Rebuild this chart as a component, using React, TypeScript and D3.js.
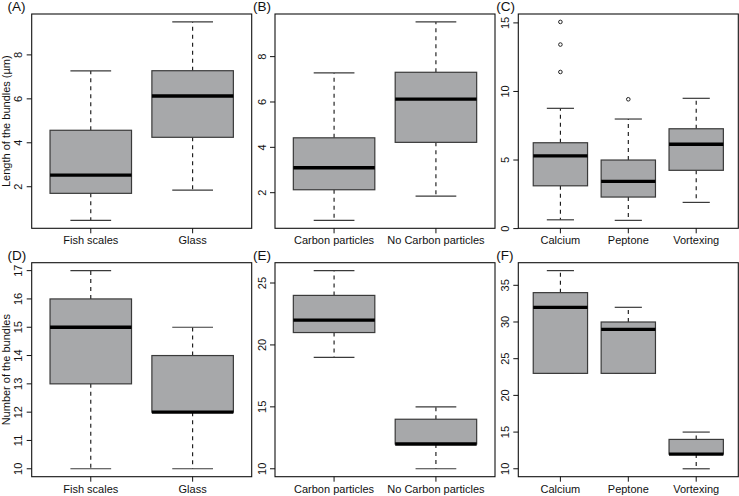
import React from "react";
import * as d3 from "d3";

// ---- data ----
const catsFishGlass = ["Fish scales", "Glass"];
const catsCarbon = ["Carbon particles", "No Carbon particles"];
const catsTreat = ["Calcium", "Peptone", "Vortexing"];

// [lower whisker, Q1, median, Q3, upper whisker]
const lengthFishGlass = [
  [0.47, 1.7, 2.53, 4.57, 7.27],
  [1.85, 4.25, 6.13, 7.28, 9.5],
];
const lengthCarbon = [
  [0.78, 2.13, 3.1, 4.42, 7.28],
  [1.85, 4.22, 6.13, 7.31, 9.53],
];
const lengthTreat = [
  [0.64, 3.12, 5.31, 6.26, 8.77],
  [0.6, 2.3, 3.44, 5.0, 7.99],
  [1.91, 4.25, 6.15, 7.28, 9.5],
];
const lengthTreatOutliers = [[11.42, 13.42, 15.07], [9.43], []];

const numberFishGlass = [
  [10, 13, 15, 16, 17],
  [10, 12, 12, 14, 15],
];
const numberCarbon = [
  [19, 21, 22, 24, 26],
  [10, 12, 12, 14, 15],
];
const numberTreat = [
  [23, 23, 32, 34, 37],
  [23, 23, 29, 30, 32],
  [10, 12, 12, 14, 15],
];

const ticksLen2 = [2, 4, 6, 8];
const ticksLenTreat = [0, 5, 10, 15];
const ticksNumFish = [10, 11, 12, 13, 14, 15, 16, 17];
const ticksNumCarbon = [10, 15, 20, 25];
const ticksNumTreat = [10, 15, 20, 25, 30, 35];

const panelLabels = ["(A)", "(B)", "(C)", "(D)", "(E)", "(F)"];
const yTitles = ["Length of the bundles (\u00b5m)", "Number of the bundles"];

// ---- layout ----
const W = 739;
const H = 496;
const colX = [
  [31.7, 251.7],
  [275, 495],
  [518.3, 738.3],
];
const rowY = [
  [14, 228.3],
  [262.7, 476.7],
];

const FONT = "'Liberation Sans', Arial, Helvetica, sans-serif";
const FILL = "#a7a8aa";
const EDGE = "#3a3a3a";

type PanelProps = {
  col: number;
  row: number;
  label: string;
  cats: string[];
  stats: number[][];
  outliers?: number[][];
  ticks: number[];
  title?: string;
};

function Panel({ col, row, label, cats, stats, outliers, ticks, title }: PanelProps) {
  const [x0, x1] = colX[col];
  const [y0, y1] = rowY[row];
  const n = cats.length;
  const allVals: number[] = [];
  stats.forEach((s) => allVals.push(s[0], s[4]));
  (outliers || []).forEach((o) => o.forEach((v) => allVals.push(v)));
  const lo = d3.min(allVals) as number;
  const hi = d3.max(allVals) as number;
  const ext = (hi - lo) * 0.04;
  const y = d3.scaleLinear().domain([lo - ext, hi + ext]).range([y1, y0]);
  const xr = (n + 0.5 - 0.5) * 0.04;
  const x = d3
    .scaleLinear()
    .domain([0.5 - xr, n + 0.5 + xr])
    .range([x0, x1]);
  const bw = (x(1.4) as number) - (x(0.6) as number);
  const sw = bw / 2;

  return (
    <g>
      <text x={label === "(A)" || label === "(D)" ? 7.5 : x0 - 22} y={row === 0 ? 10.5 : 260} fontSize={13.5} fontFamily={FONT} fill="#111">
        {label}
      </text>
      {stats.map((s, i) => {
        const cx = x(i + 1);
        return (
          <g key={i}>
            {/* whiskers */}
            <line x1={cx} x2={cx} y1={y(s[3])} y2={y(s[4])} stroke="#111" strokeWidth={1.1} strokeDasharray="4,4" />
            <line x1={cx} x2={cx} y1={y(s[1])} y2={y(s[0])} stroke="#111" strokeWidth={1.1} strokeDasharray="4,4" />
            <line x1={cx - sw / 2} x2={cx + sw / 2} y1={y(s[4])} y2={y(s[4])} stroke={EDGE} strokeWidth={1.2} />
            <line x1={cx - sw / 2} x2={cx + sw / 2} y1={y(s[0])} y2={y(s[0])} stroke={EDGE} strokeWidth={1.2} />
            {/* box */}
            <rect
              x={cx - bw / 2}
              y={y(s[3])}
              width={bw}
              height={Math.max(0, y(s[1]) - y(s[3]))}
              fill={FILL}
              stroke={EDGE}
              strokeWidth={1.2}
            />
            <line x1={cx - bw / 2} x2={cx + bw / 2} y1={y(s[2])} y2={y(s[2])} stroke="#000" strokeWidth={3.3} />
            {(outliers ? outliers[i] : []).map((v, j) => (
              <circle key={j} cx={cx} cy={y(v)} r={1.8} fill="none" stroke="#222" strokeWidth={1} />
            ))}
          </g>
        );
      })}
      {/* frame */}
      <rect x={x0} y={y0} width={x1 - x0} height={y1 - y0} fill="none" stroke="#111" strokeWidth={1.1} />
      {/* x axis */}
      {cats.map((c, i) => (
        <g key={c}>
          <line x1={x(i + 1)} x2={x(i + 1)} y1={y1} y2={y1 + 5} stroke="#111" strokeWidth={1} />
          <text x={x(i + 1)} y={y1 + 16} fontSize={11} fontFamily={FONT} textAnchor="middle" fill="#111">
            {c}
          </text>
        </g>
      ))}
      {/* y axis */}
      {ticks.map((t) => (
        <g key={t}>
          <line x1={x0 - 5} x2={x0} y1={y(t)} y2={y(t)} stroke="#111" strokeWidth={1} />
          <text
            transform={`translate(${x0 - 9.5},${y(t)}) rotate(-90)`}
            fontSize={11}
            fontFamily={FONT}
            textAnchor="middle"
            fill="#111"
          >
            {t}
          </text>
        </g>
      ))}
      {title && (
        <text
          transform={`translate(10,${(y0 + y1) / 2}) rotate(-90)`}
          fontSize={11}
          fontFamily={FONT}
          textAnchor="middle"
          fill="#111"
        >
          {title}
        </text>
      )}
    </g>
  );
}

export default function App() {
  return (
    <svg
      width={W}
      height={H}
      viewBox={`0 0 ${W} ${H}`}
      style={{ position: "absolute", left: 0, top: 0, background: "#fff" }}
    >
      <rect x={0} y={0} width={W} height={H} fill="#fff" />
      <Panel col={0} row={0} label={panelLabels[0]} cats={catsFishGlass} stats={lengthFishGlass} ticks={ticksLen2} title={yTitles[0]} />
      <Panel col={1} row={0} label={panelLabels[1]} cats={catsCarbon} stats={lengthCarbon} ticks={ticksLen2} />
      <Panel col={2} row={0} label={panelLabels[2]} cats={catsTreat} stats={lengthTreat} outliers={lengthTreatOutliers} ticks={ticksLenTreat} />
      <Panel col={0} row={1} label={panelLabels[3]} cats={catsFishGlass} stats={numberFishGlass} ticks={ticksNumFish} title={yTitles[1]} />
      <Panel col={1} row={1} label={panelLabels[4]} cats={catsCarbon} stats={numberCarbon} ticks={ticksNumCarbon} />
      <Panel col={2} row={1} label={panelLabels[5]} cats={catsTreat} stats={numberTreat} ticks={ticksNumTreat} />
    </svg>
  );
}
